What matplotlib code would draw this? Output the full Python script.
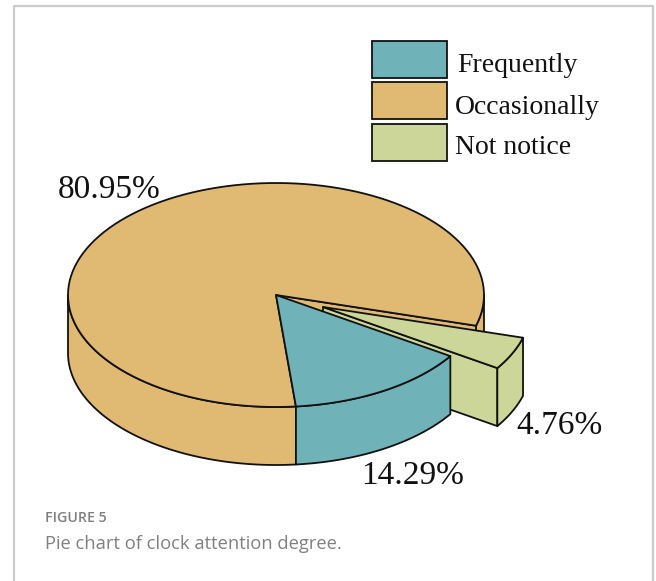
import numpy as np
import matplotlib
matplotlib.use("Agg")
import matplotlib.pyplot as plt
from matplotlib.patches import Polygon, Rectangle

categories = ["Frequently", "Occasionally", "Not notice"]
shares = [14.29, 80.95, 4.76]
share_labels = ["14.29%", "80.95%", "4.76%"]
colors = ["#6FB3B8", "#E0B973", "#CBD698"]

# pie geometry in pixels
cx, cy = 276, 295
rx, ry = 208, 112
depth = 58
explode_dx, explode_dy = 47, 12
start_angle = -84.5
edge = "#111111"
lw = 1.3

plt.rcParams['font.family'] = ['Liberation Serif', 'DejaVu Serif']


def rim(a0, a1, dx=0, dy=0, n=120):
    t = np.radians(np.linspace(a0, a1, n))
    return np.column_stack([cx + dx + rx * np.cos(t), cy + dy - ry * np.sin(t)])


def add_poly(ax, pts, color, z):
    ax.add_patch(Polygon(pts, closed=True, facecolor=color, edgecolor=edge,
                         linewidth=lw, joinstyle='round', zorder=z))


def wall(ax, a0, a1, color, z, dx=0, dy=0):
    top = rim(a0, a1, dx, dy)
    bottom = top[::-1] + [0, depth]
    add_poly(ax, np.vstack([top, bottom]), color, z)


def cut_face(ax, angle, color, z, dx=0, dy=0):
    # radial face left open where a slice has been pulled away
    apex = np.array([cx + dx, cy + dy])
    p = rim(angle, angle, dx, dy, 1)[0]
    add_poly(ax, [apex, p, p + [0, depth], apex + [0, depth]], color, z)


def top_face(ax, a0, a1, color, z, dx=0, dy=0):
    apex = [[cx + dx, cy + dy]]
    add_poly(ax, np.vstack([apex, rim(a0, a1, dx, dy)]), color, z)


fig = plt.figure(figsize=(6.56, 5.81), dpi=100)
ax = fig.add_axes([0, 0, 1, 1])
ax.set_xlim(0, 656)
ax.set_ylim(581, 0)
ax.axis('off')

# page frame, open at the bottom
ax.plot([13.5, 13.5, 653, 653], [581, 5.5, 5.5, 581], color="#CCCCCC", lw=1.6, zorder=0)

# angles run counter-clockwise from the teal slice
sweep = np.array(shares) / sum(shares) * 360
teal_start = start_angle
teal_end = teal_start + sweep[0]
green_end = teal_end + sweep[2]
orange_end = teal_start + 360

# orange slice: side wall first, then the top
wall(ax, 180, orange_end, colors[1], 2)
wall(ax, green_end, 0, colors[1], 1)
cut_face(ax, green_end, colors[1], 1.5)
top_face(ax, green_end, orange_end, colors[1], 3)

# exploded green slice
cut_face(ax, teal_end, colors[2], 4, explode_dx, explode_dy)
wall(ax, teal_end, green_end, colors[2], 5, explode_dx, explode_dy)
top_face(ax, teal_end, green_end, colors[2], 6, explode_dx, explode_dy)

# teal slice sits in front of the green one
wall(ax, teal_start, teal_end, colors[0], 7)
top_face(ax, teal_start, teal_end, colors[0], 8)

# legend swatches and names
swatch_tops = [41, 82, 124]
text_x = [457, 455, 455]
text_y = [65, 107, 148]
for i, name in enumerate(categories):
    ax.add_patch(Rectangle((372, swatch_tops[i]), 75, 37, facecolor=colors[i],
                           edgecolor=edge, linewidth=1.3, zorder=3))
    ax.text(text_x[i], text_y[i], name, fontsize=20, color="#111111",
            ha='left', va='center', zorder=3)

# value labels
ax.text(58, 190, share_labels[1], fontsize=24, color="#111111", ha='left', va='center', zorder=9)
ax.text(361, 476, share_labels[0], fontsize=24, color="#111111", ha='left', va='center', zorder=9)
ax.text(516, 426, share_labels[2], fontsize=24, color="#111111", ha='left', va='center', zorder=9)

# caption
ax.text(45, 518, "FIGURE 5", family=['Open Sans', 'DejaVu Sans'], fontsize=10.2,
        fontweight='semibold', color="#7F7F7F", ha='left', va='center')
ax.text(45, 544, "Pie chart of clock attention degree.", family=['Open Sans', 'DejaVu Sans'],
        fontsize=13.2, color="#808080", ha='left', va='center')

fig.savefig("out.png", dpi=100)
plt.close('all')
